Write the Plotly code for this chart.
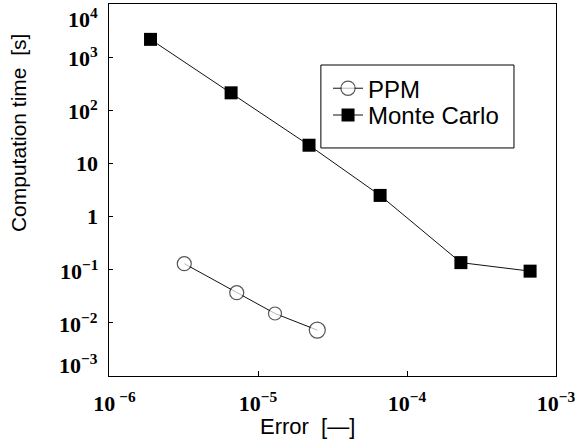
import math
import plotly.graph_objects as go

# Data
ppm_error = [3.2e-6, 7.2e-6, 1.3e-5, 2.5e-5]
ppm_time = [0.13, 0.037, 0.015, 0.0073]

mc_error = [1.9e-6, 6.6e-6, 2.2e-5, 6.6e-5, 2.3e-4, 6.7e-4]
mc_time = [2160, 213, 22, 2.5, 0.136, 0.094]

x_tickvals = [1e-6, 1e-5, 1e-4, 1e-3]
x_ticktext = ["&nbsp;&nbsp;<b>10<sup> −6</sup></b>", "<b>10<sup>−5</sup></b>",
              "<b>10<sup>−4</sup></b>", "<b>10<sup>−3</sup></b>"]
y_tickvals = [1e4, 1e3, 1e2, 10, 1, 0.1, 0.01, 0.001]
y_ticktext = ["10<sup>4</sup>", "10<sup>3</sup>", "10<sup>2</sup>", "10", "1",
              "10<sup>−1</sup>", "10<sup>−2</sup>", "10<sup>−3</sup>"]

SERIF = "Liberation Serif, Times New Roman, serif"
SANS = "Liberation Sans, Arial, sans-serif"

fig = go.Figure()
fig.add_trace(go.Scatter(
    x=ppm_error, y=ppm_time, name="PPM", mode="lines+markers",
    line=dict(color="#111111", width=1),
    marker=dict(symbol="circle", size=[14, 14, 13, 16], color="white",
                line=dict(color="#111111", width=1.2)),
    legend="legend",
))
fig.add_trace(go.Scatter(
    x=mc_error, y=mc_time, name="Monte Carlo", mode="lines+markers",
    line=dict(color="#111111", width=1),
    marker=dict(symbol="square", size=13, color="black",
                line=dict(color="black", width=0)),
    legend="legend2",
))

fig.update_xaxes(
    type="log", range=[-6, -3], tickvals=x_tickvals, ticktext=x_ticktext,
    tickfont=dict(family=SERIF, size=22, color="black"),
    ticks="inside", ticklen=5, tickcolor="black",
    showline=True, linecolor="black", linewidth=1, mirror=True,
    showgrid=False, zeroline=False, ticklabelstandoff=8, automargin=False,
)
fig.update_yaxes(
    type="log", range=[-3, 4], tickvals=y_tickvals, ticktext=[""] * len(y_tickvals),
    showticklabels=False,
    ticks="inside", ticklen=4, tickcolor="black",
    showline=True, linecolor="black", linewidth=1, mirror=True,
    showgrid=False, zeroline=False, automargin=False,
)

# y tick labels (ends nudged inward as in the reference)
n = len(y_tickvals)
for i, (v, t) in enumerate(zip(y_tickvals, y_ticktext)):
    shift = -14 if i == 0 else (12 if i == n - 1 else 0)
    fig.add_annotation(text="<b>" + t + "</b>", xref="paper", yref="y",
                       x=-0.02, y=math.log10(v), xanchor="right",
                       yanchor="middle", yshift=shift, showarrow=False,
                       font=dict(family=SERIF, size=22, color="black"))

fig.add_shape(type="rect", xref="paper", yref="paper",
              x0=0.474, x1=0.906, y0=0.613, y1=0.836,
              line=dict(color="black", width=1), fillcolor="white", layer="below")

fig.add_annotation(text="Computation time  [s]", xref="paper", yref="paper",
                   x=-0.2036, y=0.653, xanchor="center", yanchor="middle",
                   showarrow=False, textangle=-90,
                   font=dict(family=SANS, size=21, color="black"))
fig.add_annotation(text="Error  [—]", xref="paper", yref="paper",
                   x=0.445, y=-0.137, xanchor="center", yanchor="middle",
                   showarrow=False,
                   font=dict(family=SANS, size=22, color="black"))

legend_common = dict(xanchor="left", yanchor="top", bgcolor="rgba(0,0,0,0)",
                     borderwidth=0, font=dict(family=SANS, size=24, color="black"),
                     itemsizing="trace")
fig.update_layout(
    width=580, height=445,
    margin=dict(l=109, r=24, t=4, b=69),
    paper_bgcolor="white", plot_bgcolor="white",
    showlegend=True,
    legend=dict(x=0.490, y=0.833, **legend_common),
    legend2=dict(x=0.490, y=0.761, **legend_common),
)

fig.write_html("out.html", config={"displayModeBar": False},
               post_script="document.body.style.margin='0';")
